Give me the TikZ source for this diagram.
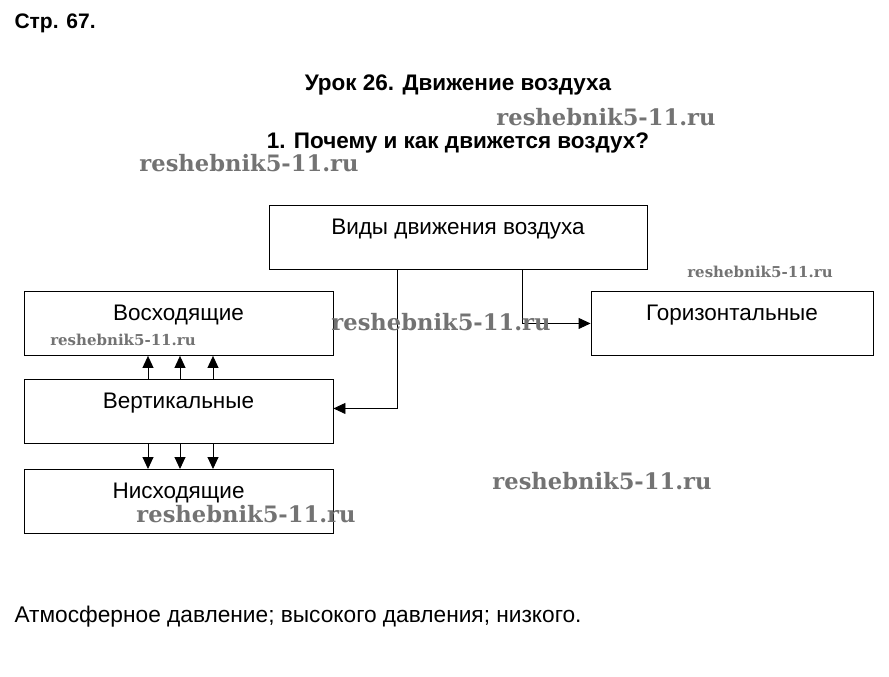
\documentclass[tikz,border=0pt]{standalone}
\usepackage{fontspec}
\setmainfont{Liberation Sans}
\newfontfamily\wmfont{DejaVu Serif}
\usetikzlibrary{arrows.meta}
\begin{document}
\begin{tikzpicture}[x=1pt,y=-1pt,
  box/.style={draw,line width=0.9pt,anchor=north,inner ysep=0pt,
    font=\fontsize{22.5}{26}\selectfont,text height=29pt,text depth=35pt},
  head/.style={font=\fontsize{22.5}{26}\selectfont\bfseries},
  arr/.style={-{Triangle[length=12pt,width=11pt]},line width=0.9pt},
  wm/.style={font=\wmfont\bfseries\fontsize{22.6}{26}\selectfont,text=black!55},
  wmsmall/.style={wm,font=\wmfont\bfseries\fontsize{15}{18}\selectfont}]
\useasboundingbox (0,0) rectangle (889,677);

\node[head,anchor=west,font=\fontsize{21}{24}\selectfont\bfseries] (page) at (11,23) {Стр. 67.};
\node[head] (lesson) at (458,85) {Урок 26. Движение воздуха};
\node[head] (question) at (458,143) {1. Почему и как движется воздух?};

\node[box,minimum width=378pt] (types) at (458,205) {Виды движения воздуха};
\node[box,minimum width=309pt] (up) at (178.5,291) {Восходящие};
\node[box,minimum width=282pt] (horiz) at (732,291) {Горизонтальные};
\node[box,minimum width=309pt] (vert) at (178.5,379) {Вертикальные};
\node[box,minimum width=309pt] (down) at (178.5,469) {Нисходящие};

\draw[arr] ([xshift=-61pt]types.south) |- ([yshift=3pt]vert.east);
\draw[arr] ([xshift=64pt]types.south) |- (horiz.west);
\foreach \dx in {-30.5,1.5,34.5} {
  \draw[arr] ([xshift=\dx pt]vert.north) -- ([xshift=\dx pt]up.south);
  \draw[arr] ([xshift=\dx pt]vert.south) -- ([xshift=\dx pt]down.north);
}

\node[anchor=west,font=\fontsize{22.7}{26}\selectfont] (answer) at (11,617)
  {Атмосферное давление; высокого давления; низкого.};

\node[wm] (wm1) at (606,117) {reshebnik5-11.ru};
\node[wm] (wm2) at (249,163) {reshebnik5-11.ru};
\node[wmsmall] (wm3) at (760,272) {reshebnik5-11.ru};
\node[wm] (wm4) at (441,322) {reshebnik5-11.ru};
\node[wmsmall] (wm5) at (123,340) {reshebnik5-11.ru};
\node[wm] (wm6) at (602,481) {reshebnik5-11.ru};
\node[wm] (wm7) at (246,514) {reshebnik5-11.ru};

\end{tikzpicture}
\end{document}
